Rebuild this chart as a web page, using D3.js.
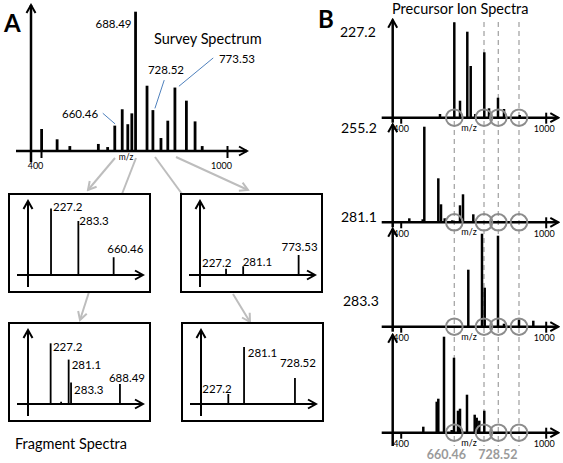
<!DOCTYPE html>
<html><head><meta charset="utf-8">
<script src="https://cdn.jsdelivr.net/npm/d3@7"></script>
<style>body{margin:0;background:#fff}svg{display:block}text{font-family:Lato,"Open Sans",sans-serif}</style>
</head><body>
<script>
// ---------------- DATA ----------------
// Panel A: survey spectrum (m/z, relative intensity %)
const surveyMz  = [402, 452, 493, 585, 615, 638, 662, 680, 693, 705, 742, 761, 787, 809, 832, 869, 897, 920];
const surveyInt = [15.6, 8.3, 3.5, 5, 2.8, 18, 29.6, 19, 26.7, 98.8, 46.3, 29, 9.2, 21.5, 45, 35.7, 21, 3.5];
const surveyLabelText = ["660.46", "688.49", "728.52", "773.53"];
const surveyLabelPeak = [638, 705, 761, 832];
const axisTicks = [400, 1000];

// Fragment spectra (schematic position 0..100 along the box axis, intensity 0..100)
const frag1Pos = [27, 48.7, 76.7];          const frag1Int = [90, 73, 24];        const frag1Lab = ["227.2", "283.3", "660.46"];
const frag2Pos = [29.4, 43, 87];            const frag2Int = [8.5, 11.8, 27];     const frag2Lab = ["227.2", "281.1", "773.53"];
const frag3Pos = [26.7, 35, 41, 42.9, 81.7]; const frag3Int = [82, 3, 60, 29, 27]; const frag3Lab = ["227.2", "", "281.1", "283.3", "688.49"];
const frag4Pos = [30.4, 42.9, 83.3];        const frag4Int = [13.5, 77, 35];      const frag4Lab = ["227.2", "281.1", "728.52"];

// Panel B: precursor ion spectra
const precursorIons = ["227.2", "255.2", "281.1", "283.3"];
const prec1Mz  = [562.6, 621.8, 645.4, 675.6, 689.7, 708.7, 745.9, 765.4, 802.6, 827.4, 892.4];
const prec1Int = [3.7, 95.4, 17, 86, 51.7, 3.7, 65.4, 9.4, 20, 8.7, 2.7];
const prec2Mz  = [435.6, 491, 497.7, 555.6, 566.8, 582.1, 613.5, 645.4, 657.8, 700.4];
const prec2Int = [4, 3, 95.6, 44, 18, 4, 2, 17, 28, 8];
const prec3Mz  = [679.7, 736.4, 747.6, 802.6, 827.4, 889.5, 948.7];
const prec3Int = [57, 93, 39, 91, 3, 7, 6];
const prec4Mz  = [493.5, 549, 555.6, 579.2, 611, 620.5, 637.1, 645.4, 674.3, 706.2, 714.5, 725.2, 745.9];
const prec4Int = [6, 31, 34, 96, 2.7, 75, 22, 24, 38, 18, 15, 12, 22];
const selectedMz = [621.8, 744.7, 803.9, 889.5];
const selectedLab = ["660.46", "", "728.52", ""];

// ---------------- DRAW ----------------
const svg = d3.select("body").append("svg").attr("width", 563).attr("height", 463);
const defs = svg.append("defs");
function marker(id, color) {
  defs.append("marker").attr("id", id).attr("viewBox", "-10 -6 12 12")
    .attr("refX", 0).attr("refY", 0).attr("markerWidth", 12).attr("markerHeight", 12)
    .attr("markerUnits", "userSpaceOnUse").attr("orient", "auto")
    .append("path").attr("d", "M-8,-4.5L0,0L-8,4.5").attr("fill", "none")
    .attr("stroke", color).attr("stroke-width", 2);
}
marker("ah", "#000");
marker("ahg", "#bdbdbd");

function arrowLine(g, x1, y1, x2, y2, w, head) {
  const l = g.append("line").attr("x1", x1).attr("y1", y1).attr("x2", x2).attr("y2", y2)
    .attr("stroke", "#000").attr("stroke-width", w);
  if (head) l.attr("marker-end", "url(#ah)");
  return l;
}

// ---- Panel A survey ----
const gA = svg.append("g");
const xA = d3.scaleLinear().domain([400, 1000]).range([41, 227]);
const yA = d3.scaleLinear().domain([0, 100]).range([151, 10]);

gA.append("text").attr("x", 4).attr("y", 32).attr("font-family", "Liberation Sans, Arial")
  .attr("font-weight", "bold").attr("font-size", 24).text("A");

arrowLine(gA, 31, 162, 31, 5, 2.5, true);
arrowLine(gA, 16, 151, 247, 151, 2.5, true);
const axA = gA.append("g").attr("transform", "translate(0,151)")
  .call(d3.axisBottom(xA).tickValues(axisTicks).tickSize(7).tickPadding(5).tickFormat(d3.format("d")));
axA.select(".domain").remove();
axA.selectAll("line").attr("stroke-width", 2);
axA.selectAll(".tick").filter(d => d === 1000).select("line").attr("y1", -5);
axA.selectAll("text").attr("font-size", 9).attr("font-family", "Lato").attr("dx", -6);
gA.append("text").attr("x", 126).attr("y", 160).attr("text-anchor", "middle").attr("font-size", 8.5).text("m/z");

gA.selectAll(".sbar").data(surveyMz).join("line").attr("class", "sbar")
  .attr("x1", d => xA(d)).attr("x2", d => xA(d)).attr("y1", yA(0))
  .attr("y2", (d, i) => yA(surveyInt[i])).attr("stroke", "#000").attr("stroke-width", 2.8);

// label layout (offsets from peak top)
const sLabLayout = [
  {anchor: "end", dx: -16.7, dy: -7.7, lead: [-12, -12.4, 0.3, -1.7]},
  {anchor: "end", dx: -4, dy: 16.3, lead: null},
  {anchor: "start", dx: -5, dy: -36, lead: [11.3, -30, 2, -1.7]},
  {anchor: "start", dx: 44, dy: -24.3, lead: [38.3, -29.6, 4, -1.3]}
];
surveyLabelText.forEach((t, i) => {
  const mz = surveyLabelPeak[i];
  const px = xA(mz), py = yA(surveyInt[surveyMz.indexOf(mz)]);
  const L = sLabLayout[i];
  gA.append("text").attr("x", px + L.dx).attr("y", py + L.dy).attr("text-anchor", L.anchor)
    .attr("font-size", 11.5).text(t);
  if (L.lead) gA.append("line").attr("x1", px + L.lead[0]).attr("y1", py + L.lead[1])
    .attr("x2", px + L.lead[2]).attr("y2", py + L.lead[3]).attr("stroke", "#4f81bd").attr("stroke-width", 1);
});
gA.append("text").attr("x", 154).attr("y", 44).attr("font-size", 14.5).text("Survey Spectrum");

// gray connector arrows
const grayLinks = [
  [115, 158, 88, 190, true], [136, 158, 122, 194, false], [155, 157, 182, 194, false],
  [176, 157, 248, 190, true], [89, 292, 80, 320, true], [233, 294, 250, 322, true]
];
grayLinks.forEach(([x1, y1, x2, y2, h]) => {
  const l = gA.append("line").attr("x1", x1).attr("y1", y1).attr("x2", x2).attr("y2", y2)
    .attr("stroke", "#bdbdbd").attr("stroke-width", 2);
  if (h) l.attr("marker-end", "url(#ahg)");
});

// ---- Fragment boxes ----
const boxes = [
  {x0: 9, y0: 194, pos: frag1Pos, int: frag1Int, lab: frag1Lab,
   ll: [["start", 2, 3], ["start", 1, 4.3], ["start", -6.4, -4]]},
  {x0: 181, y0: 194, pos: frag2Pos, int: frag2Int, lab: frag2Lab,
   ll: [["start", -24, -1.4], ["start", -0.5, -0.7], ["end", 19, -3.7]]},
  {x0: 9, y0: 323, pos: frag3Pos, int: frag3Int, lab: frag3Lab,
   ll: [["start", 2.3, 7.3], ["start", 0, 0], ["start", 3, 9.6], ["start", 3, 11], ["start", -11, -2.3]]},
  {x0: 182, y0: 323, pos: frag4Pos, int: frag4Int, lab: frag4Lab,
   ll: [["start", -26, -0.7], ["start", 3.7, 10], ["end", 21, -11]]}
];
boxes.forEach(b => {
  const g = svg.append("g");
  g.append("rect").attr("x", b.x0).attr("y", b.y0).attr("width", 141).attr("height", 98)
    .attr("fill", "none").attr("stroke", "#000").attr("stroke-width", 2);
  const xs = d3.scaleLinear().domain([0, 100]).range([b.x0 + 8, b.x0 + 134]);
  const ys = d3.scaleLinear().domain([0, 100]).range([b.y0 + 81, b.y0 + 7]);
  arrowLine(g, b.x0 + 19, b.y0 + 93, b.x0 + 19, b.y0 + 7, 2, true);
  arrowLine(g, b.x0 + 8, b.y0 + 81, b.x0 + 134, b.y0 + 81, 2, true);
  g.selectAll(".fb").data(b.pos).join("line").attr("class", "fb")
    .attr("x1", d => xs(d)).attr("x2", d => xs(d)).attr("y1", ys(0))
    .attr("y2", (d, i) => ys(b.int[i])).attr("stroke", "#000").attr("stroke-width", 1.8);
  b.lab.forEach((t, i) => {
    if (!t) return;
    const L = b.ll[i];
    g.append("text").attr("x", xs(b.pos[i]) + L[1]).attr("y", ys(b.int[i]) + L[2])
      .attr("text-anchor", L[0]).attr("font-size", 11.5).text(t);
  });
});
svg.append("text").attr("x", 15).attr("y", 449).attr("font-size", 14.5).text("Fragment Spectra");

// ---- Panel B ----
const gB = svg.append("g");
gB.append("text").attr("x", 318).attr("y", 28).attr("font-family", "Liberation Sans, Arial")
  .attr("font-weight", "bold").attr("font-size", 24).text("B");
gB.append("text").attr("x", 392).attr("y", 14).attr("font-size", 14.5).text("Precursor Ion Spectra");
const xB = d3.scaleLinear().domain([400, 1000]).range([400.7, 545.7]);
const axisYs = [117.7, 222.3, 326.7, 432.7];
const precMz = [prec1Mz, prec2Mz, prec3Mz, prec4Mz];
const precInt = [prec1Int, prec2Int, prec3Int, prec4Int];
const rowLabelPos = [[340, 37], [341, 133], [341, 222], [343, 306]];

// dashed selection lines
gB.selectAll(".dash").data(selectedMz).join("line").attr("class", "dash")
  .attr("x1", d => xB(d)).attr("x2", d => xB(d)).attr("y1", 22).attr("y2", 446)
  .attr("stroke", "#a6a6a6").attr("stroke-width", 1.3).attr("stroke-dasharray", "5,4");

axisYs.forEach((ay, p) => {
  const g = gB.append("g");
  const yB = d3.scaleLinear().domain([0, 100]).range([ay, ay - 100]);
  g.append("text").attr("x", rowLabelPos[p][0]).attr("y", rowLabelPos[p][1]).attr("font-size", 14).text(precursorIons[p]);
  arrowLine(g, 392.7, p === 3 ? 446 : ay + 5, 392.7, ay - 98, 2.5, true);
  arrowLine(g, 381.7, ay, 558.3, ay, 2.5, true);
  const ax = g.append("g").attr("transform", `translate(0,${ay})`)
    .call(d3.axisBottom(xB).tickValues(axisTicks).tickSize(6).tickPadding(2).tickFormat(d3.format("d")));
  ax.select(".domain").remove();
  ax.selectAll("line").attr("stroke-width", 2);
  ax.selectAll(".tick").filter(d => d === 1000).select("line").attr("y1", -5);
  ax.selectAll(".tick").filter(d => d === 1000).select("text").attr("dx", -2);
  ax.selectAll("text").attr("font-size", 9).attr("font-family", "Lato");
  g.append("text").attr("x", 469).attr("y", ay + 13).attr("text-anchor", "middle").attr("font-size", 9).text("m/z");
  g.selectAll(".pb").data(precMz[p]).join("line").attr("class", "pb")
    .attr("x1", d => xB(d)).attr("x2", d => xB(d)).attr("y1", yB(0))
    .attr("y2", (d, i) => yB(precInt[p][i])).attr("stroke", "#000").attr("stroke-width", 2.5);
  g.selectAll(".circ").data(selectedMz).join("circle").attr("class", "circ")
    .attr("cx", d => xB(d)).attr("cy", ay).attr("r", 8.3)
    .attr("fill", "none").attr("stroke", "#8c8c8c").attr("stroke-width", 2);
});
const selLabDx = [-8, 0, -0.5, 0];
selectedLab.forEach((t, i) => {
  if (!t) return;
  gB.append("text").attr("x", xB(selectedMz[i]) + selLabDx[i]).attr("y", 459).attr("text-anchor", "middle")
    .attr("font-size", 12.5).attr("font-weight", "bold").attr("fill", "#9a9a9a").text(t);
});
</script>
</body></html>
